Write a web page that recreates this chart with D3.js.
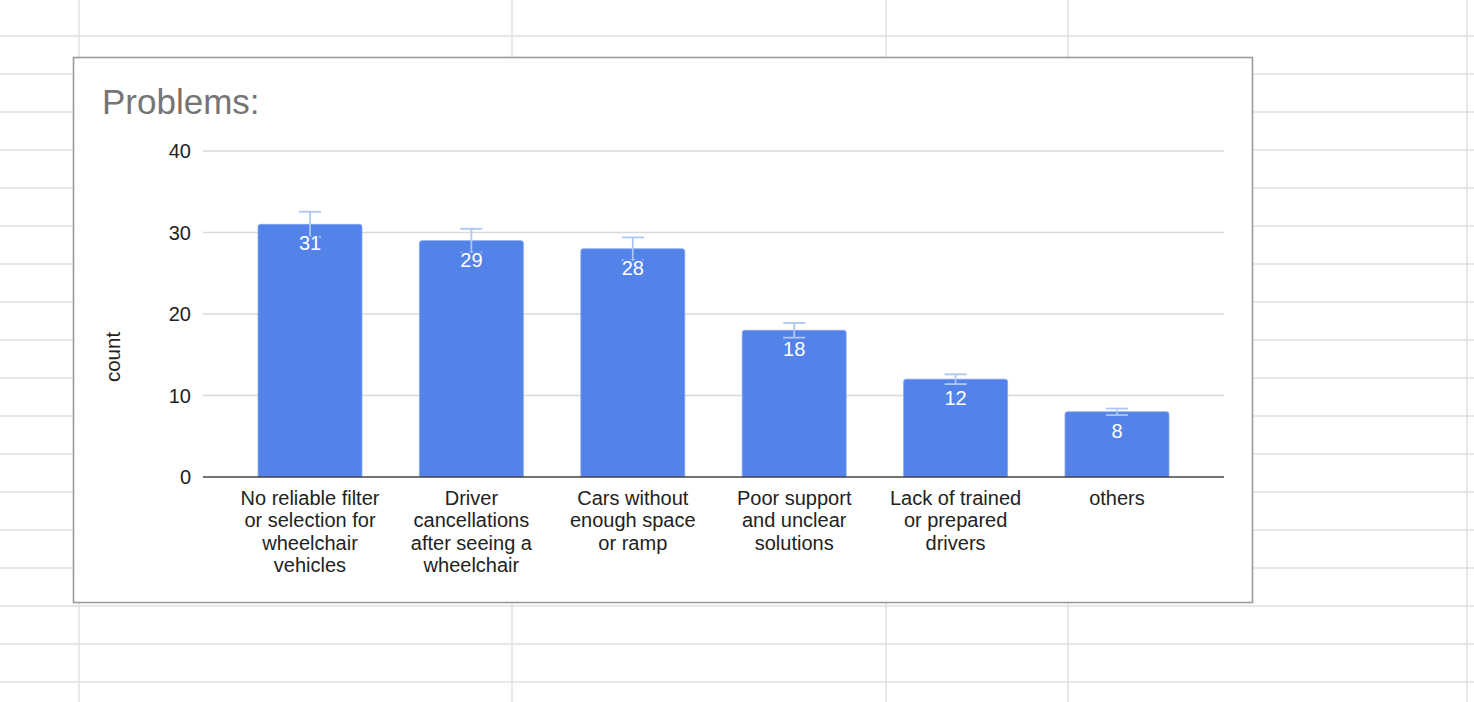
<!DOCTYPE html>
<html>
<head>
<meta charset="utf-8">
<script src="https://cdn.jsdelivr.net/npm/d3@7"></script>
<style>
  html, body { margin: 0; padding: 0; background: #ffffff; }
  svg { display: block; font-family: "Liberation Sans", Arial, sans-serif; }
</style>
</head>
<body>
<svg id="chart" width="1474" height="702"></svg>
<script>
// ---- data ----
const categories = [
  "No reliable filter or selection for wheelchair vehicles",
  "Driver cancellations after seeing a wheelchair",
  "Cars without enough space or ramp",
  "Poor support and unclear solutions",
  "Lack of trained or prepared drivers",
  "others"
];
const counts = [31, 29, 28, 18, 12, 8];
const errors = [1.55, 1.45, 1.4, 0.9, 0.6, 0.4];
const yTicks = [0, 10, 20, 30, 40];
const titleText = "Problems:";
const yAxisTitle = "count";

// ---- page ----
const W = 1474, H = 702;
const svg = d3.select("#chart");

// spreadsheet grid background
const rowLines = d3.range(36, H, 38);
const colLines = [79, 512, 886, 1068, 1467];
svg.append("g").selectAll("line.r").data(rowLines).join("line")
  .attr("x1", 0).attr("x2", W).attr("y1", d => d).attr("y2", d => d)
  .attr("stroke", "#e1e1e1").attr("stroke-width", 1.5);
svg.append("g").selectAll("line.c").data(colLines).join("line")
  .attr("x1", d => d).attr("x2", d => d).attr("y1", 0).attr("y2", H)
  .attr("stroke", "#e1e1e1").attr("stroke-width", 1.5);

// chart frame
svg.append("rect")
  .attr("x", 73.5).attr("y", 57.5).attr("width", 1179).attr("height", 545)
  .attr("fill", "#ffffff").attr("stroke", "#9b9b9b").attr("stroke-width", 1.6);

svg.append("text")
  .attr("x", 102).attr("y", 114)
  .attr("font-size", 35).attr("fill", "#757575")
  .text(titleText);

// scales
const plotLeft = 203, plotRight = 1224;
const y = d3.scaleLinear().domain([0, 40]).range([477, 151]);
const x = d3.scaleBand().domain(categories).range([plotLeft, plotRight])
  .paddingInner(0.356).paddingOuter(0.341);

// gridlines
svg.append("g").selectAll("line").data(yTicks.filter(t => t !== 0)).join("line")
  .attr("x1", plotLeft).attr("x2", plotRight)
  .attr("y1", d => y(d)).attr("y2", d => y(d))
  .attr("stroke", "#d9d9d9").attr("stroke-width", 1.5);

// y tick labels
svg.append("g").selectAll("text").data(yTicks).join("text")
  .attr("x", 191).attr("y", d => y(d)).attr("dy", "0.36em")
  .attr("text-anchor", "end").attr("font-size", 20).attr("fill", "#222")
  .text(d => d);

// y axis title
svg.append("text")
  .attr("transform", "translate(120,357) rotate(-90)")
  .attr("text-anchor", "middle").attr("font-size", 20.5).attr("fill", "#222")
  .text(yAxisTitle);

// bars
const barColor = "#5383e8";
svg.append("g").selectAll("path").data(categories).join("path")
  .attr("d", (c, i) => {
    const x0 = x(c), x1 = x(c) + x.bandwidth(), top = y(counts[i]), bot = y(0), r = 2.5;
    return `M${x0},${bot} L${x0},${top + r} Q${x0},${top} ${x0 + r},${top} L${x1 - r},${top} Q${x1},${top} ${x1},${top + r} L${x1},${bot} Z`;
  })
  .attr("fill", barColor).attr("stroke", "#7fa3ee").attr("stroke-width", 0.8);

// error bars
const errColor = "#adc6f5";
const eg = svg.append("g").attr("stroke", errColor).attr("stroke-width", 1.8).attr("fill", "none");
categories.forEach((c, i) => {
  const cx = x(c) + x.bandwidth() / 2;
  const hi = y(counts[i] + errors[i]), lo = y(counts[i] - errors[i]);
  eg.append("line").attr("x1", cx).attr("x2", cx).attr("y1", hi).attr("y2", lo);
  eg.append("line").attr("x1", cx - 11).attr("x2", cx + 11).attr("y1", hi).attr("y2", hi);
  eg.append("line").attr("x1", cx - 11).attr("x2", cx + 11).attr("y1", lo).attr("y2", lo);
});

// value labels
svg.append("g").selectAll("text").data(categories).join("text")
  .attr("x", c => x(c) + x.bandwidth() / 2)
  .attr("y", (c, i) => y(counts[i]) + 26)
  .attr("text-anchor", "middle").attr("font-size", 20).attr("fill", "#ffffff")
  .attr("stroke", barColor).attr("stroke-width", 4).attr("paint-order", "stroke")
  .attr("stroke-linejoin", "round")
  .text((c, i) => counts[i]);

// baseline
svg.append("line")
  .attr("x1", plotLeft).attr("x2", plotRight).attr("y1", y(0)).attr("y2", y(0))
  .attr("stroke", "#444").attr("stroke-width", 1.6);

// category labels with wrapping
const maxW = 145;
const lg = svg.append("g");
categories.forEach(c => {
  const t = lg.append("text")
    .attr("x", x(c) + x.bandwidth() / 2).attr("y", 505)
    .attr("text-anchor", "middle").attr("font-size", 20).attr("fill", "#222");
  const words = c.split(" ");
  let line = [], lineNo = 0;
  let ts = t.append("tspan").attr("x", x(c) + x.bandwidth() / 2).attr("dy", 0);
  words.forEach(w => {
    line.push(w);
    ts.text(line.join(" "));
    if (ts.node().getComputedTextLength() > maxW && line.length > 1) {
      line.pop();
      ts.text(line.join(" "));
      line = [w];
      lineNo++;
      ts = t.append("tspan").attr("x", x(c) + x.bandwidth() / 2).attr("dy", 22.3).text(w);
    }
  });
});
</script>
</body>
</html>
